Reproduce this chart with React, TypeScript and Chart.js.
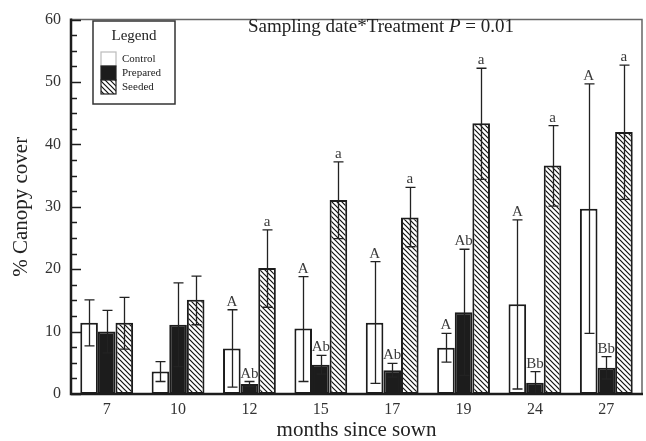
import React, { useEffect, useRef } from "react";
import { Chart, registerables } from "chart.js";

Chart.register(...registerables);

const categories = ["7", "10", "12", "15", "17", "19", "24", "27"];
const seriesNames = ["Control", "Prepared", "Seeded"];

const controlMean = [11.4, 3.6, 7.3, 10.5, 11.4, 7.4, 14.4, 29.7];
const controlHigh = [15.1, 5.2, 13.5, 18.8, 21.2, 9.7, 27.9, 49.7];
const controlLow = [7.7, 2.0, 1.1, 2.0, 1.7, 5.1, 0.8, 9.7];

const preparedMean = [10.0, 11.1, 1.6, 4.7, 3.8, 13.1, 1.8, 4.2];
const preparedHigh = [13.4, 17.8, 2.0, 6.2, 4.9, 23.2, 3.6, 6.0];
const preparedLow = [6.6, 4.4, 1.2, 3.2, 2.7, 3.0, 0.0, 2.4];

const seededMean = [11.4, 15.1, 20.2, 31.1, 28.3, 43.4, 36.6, 42.0];
const seededHigh = [15.5, 18.9, 26.3, 37.2, 33.1, 52.2, 43.0, 52.7];
const seededLow = [7.2, 11.1, 13.9, 24.9, 23.6, 34.4, 30.1, 31.2];

const controlLetters = ["", "", "A", "A", "A", "A", "A", "A"];
const preparedLetters = ["", "", "Ab", "Ab", "Ab", "Ab", "Bb", "Bb"];
const seededLetters = ["", "", "a", "a", "a", "a", "a", "a"];

const yTickValues = [0, 10, 20, 30, 40, 50, 60];

const highs = [controlHigh, preparedHigh, seededHigh];
const lows = [controlLow, preparedLow, seededLow];
const letters = [controlLetters, preparedLetters, seededLetters];

const SERIF = "'Liberation Serif', 'Times New Roman', serif";
const INK = "#1c1c1c";

function makeHatch(): CanvasPattern | string {
  const s = 5;
  const c = document.createElement("canvas");
  c.width = s;
  c.height = s;
  const g = c.getContext("2d");
  if (!g) return "#fff";
  g.fillStyle = "#ffffff";
  g.fillRect(0, 0, s, s);
  g.strokeStyle = "#111";
  g.lineWidth = 1.2;
  g.beginPath();
  g.moveTo(-1, -1);
  g.lineTo(s + 1, s + 1);
  g.moveTo(s - 1, -1);
  g.lineTo(s + 1, 1);
  g.moveTo(-1, s - 1);
  g.lineTo(1, s + 1);
  g.stroke();
  const p = g.createPattern(c, "repeat");
  return p || "#fff";
}

const decorPlugin = {
  id: "decor",
  beforeDatasetsDraw(chart: any) {
    const ctx = chart.ctx;
    const y = chart.scales.y;
    ctx.save();
    ctx.font = `15px ${SERIF}`;
    ctx.fillStyle = "#3a3a3a";
    ctx.textAlign = "center";
    ctx.textBaseline = "alphabetic";
    for (let d = 0; d < 3; d++) {
      const meta = chart.getDatasetMeta(d);
      meta.data.forEach((el: any, i: number) => {
        const t = letters[d][i];
        if (!t) return;
        const py = y.getPixelForValue(highs[d][i]);
        ctx.fillText(t, el.x, py - 4);
      });
    }
    ctx.restore();
  },
  afterDatasetsDraw(chart: any) {
    const ctx = chart.ctx;
    const y = chart.scales.y;
    ctx.save();
    ctx.strokeStyle = "#222";
    ctx.lineWidth = 1.3;
    for (let d = 0; d < 3; d++) {
      const meta = chart.getDatasetMeta(d);
      meta.data.forEach((el: any, i: number) => {
        const yh = y.getPixelForValue(highs[d][i]);
        const yl = y.getPixelForValue(lows[d][i]);
        const x = Math.round(el.x) + 0.5;
        const cw = 5;
        ctx.beginPath();
        ctx.moveTo(x, yh);
        ctx.lineTo(x, yl);
        ctx.moveTo(x - cw, yh);
        ctx.lineTo(x + cw, yh);
        ctx.moveTo(x - cw, yl);
        ctx.lineTo(x + cw, yl);
        ctx.stroke();
      });
    }
    ctx.restore();
  },
  afterDraw(chart: any) {
    const ctx = chart.ctx;
    const a = chart.chartArea;
    const y = chart.scales.y;
    ctx.save();
    // frame
    ctx.strokeStyle = "#666";
    ctx.lineWidth = 1.5;
    ctx.beginPath();
    ctx.moveTo(a.left, a.top);
    ctx.lineTo(a.right, a.top);
    ctx.lineTo(a.right, a.bottom);
    ctx.stroke();
    ctx.strokeStyle = INK;
    ctx.lineWidth = 2.5;
    ctx.beginPath();
    ctx.moveTo(a.left, a.top - 1);
    ctx.lineTo(a.left, a.bottom);
    ctx.lineTo(a.right + 1, a.bottom);
    ctx.stroke();
    // inward ticks
    ctx.lineWidth = 1.5;
    ctx.beginPath();
    for (let v = 0; v <= 60.001; v += 2.5) {
      const py = Math.round(y.getPixelForValue(v)) + 0.5;
      const len = Math.abs(v % 10) < 0.01 ? 10 : 6;
      ctx.moveTo(a.left, py);
      ctx.lineTo(a.left + len, py);
    }
    ctx.stroke();

    // title with italic P
    const parts: [string, string][] = [
      ["Sampling date*Treatment ", "normal"],
      ["P", "italic"],
      [" = 0.01", "normal"],
    ];
    let total = 0;
    const widths: number[] = [];
    parts.forEach(([t, st]) => {
      ctx.font = `${st} 19px ${SERIF}`;
      const w = ctx.measureText(t).width;
      widths.push(w);
      total += w;
    });
    let tx = 381 - total / 2;
    ctx.fillStyle = "#222";
    ctx.textBaseline = "middle";
    ctx.textAlign = "left";
    parts.forEach(([t, st], i) => {
      ctx.font = `${st} 19px ${SERIF}`;
      ctx.fillText(t, tx, 27);
      tx += widths[i];
    });

    // legend box
    const lx = 93, ly = 21, lw = 82, lh = 83;
    ctx.fillStyle = "#fff";
    ctx.fillRect(lx, ly, lw, lh);
    ctx.strokeStyle = "#333";
    ctx.lineWidth = 1.5;
    ctx.strokeRect(lx, ly, lw, lh);
    ctx.fillStyle = "#222";
    ctx.textAlign = "center";
    ctx.font = `15px ${SERIF}`;
    ctx.fillText("Legend", lx + lw / 2, 36);
    const ds = chart.data.datasets;
    const rows = [52, 66, 80];
    ds.forEach((dset: any, i: number) => {
      const sy = rows[i];
      ctx.fillStyle = dset.backgroundColor;
      ctx.fillRect(101, sy, 15, 14);
      ctx.strokeStyle = i === 0 ? "#bbb" : "#222";
      ctx.lineWidth = 1.2;
      ctx.strokeRect(101, sy, 15, 14);
      ctx.fillStyle = "#222";
      ctx.textAlign = "left";
      ctx.font = `11px ${SERIF}`;
      ctx.fillText(dset.label, 122, sy + 7);
    });
    ctx.restore();
  },
};

export default function App() {
  const ref = useRef<HTMLCanvasElement | null>(null);
  useEffect(() => {
    document.body.style.margin = "0";
    if (!ref.current) return;
    const hatch = makeHatch();
    const chart = new Chart(ref.current, {
      type: "bar",
      data: {
        labels: categories,
        datasets: [
          { label: seriesNames[0], data: controlMean, backgroundColor: "#ffffff", borderColor: INK, borderWidth: 2, borderSkipped: false },
          { label: seriesNames[1], data: preparedMean, backgroundColor: INK, borderColor: INK, borderWidth: 2, borderSkipped: false },
          { label: seriesNames[2], data: seededMean, backgroundColor: hatch as any, borderColor: INK, borderWidth: 2, borderSkipped: false },
        ],
      },
      options: {
        animation: false,
        responsive: false,
        maintainAspectRatio: false,
        layout: { padding: { top: 13, right: 4, left: 0, bottom: 0 } },
        datasets: { bar: { categoryPercentage: 0.74, barPercentage: 1 } },
        plugins: { legend: { display: false }, tooltip: { enabled: false } },
        scales: {
          x: {
            grid: { display: false, drawTicks: false },
            border: { display: false },
            ticks: { font: { family: SERIF, size: 16 }, color: "#333", padding: 6 },
            title: { display: true, text: "months since sown", font: { family: SERIF, size: 21 }, color: "#222", padding: { top: 0, bottom: -2 } },
            afterFit: (s: any) => { s.height = 47; },
          },
          y: {
            min: 0,
            max: 60,
            afterBuildTicks: (s: any) => { s.ticks = yTickValues.map((v) => ({ value: v })); },
            grid: { display: false, drawTicks: false },
            border: { display: false },
            ticks: { font: { family: SERIF, size: 16 }, color: "#333", padding: 10 },
            title: { display: true, text: "% Canopy cover", font: { family: SERIF, size: 21 }, color: "#222", padding: { top: 9, bottom: 0 } },
            afterFit: (s: any) => { s.width = 71; },
          },
        },
      },
      plugins: [decorPlugin],
    });
    return () => chart.destroy();
  }, []);
  return (
    <div style={{ width: 646, height: 441 }}>
      <canvas ref={ref} width={646} height={441} style={{ display: "block" }} />
    </div>
  );
}
